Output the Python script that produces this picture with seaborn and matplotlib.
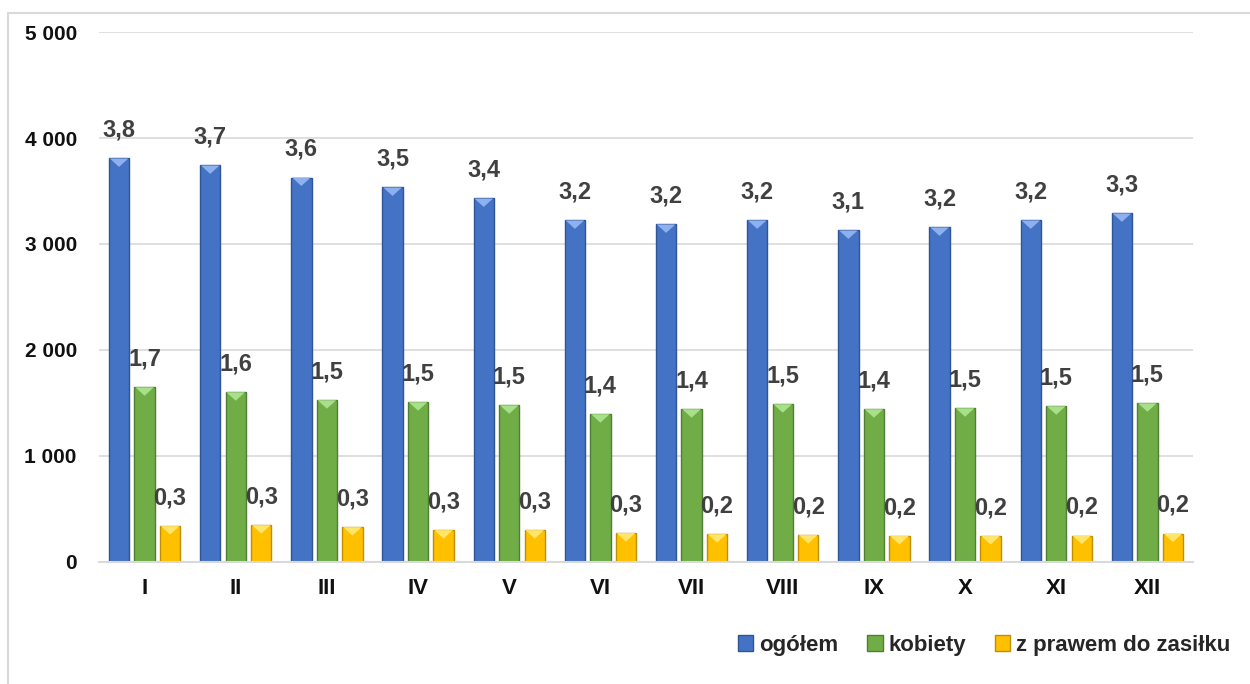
import numpy as np
import pandas as pd
import matplotlib.pyplot as plt
import seaborn as sns
from matplotlib.patches import Polygon, Rectangle, Patch

months = ['I', 'II', 'III', 'IV', 'V', 'VI', 'VII', 'VIII', 'IX', 'X', 'XI', 'XII']
series = ['ogółem', 'kobiety', 'z prawem do zasiłku']

ogolem = [3807, 3741, 3627, 3533, 3429, 3222, 3184, 3222, 3127, 3156, 3222, 3288]
kobiety = [1646, 1599, 1524, 1505, 1476, 1392, 1439, 1486, 1439, 1448, 1467, 1495]
zasilek = [335, 344, 325, 297, 297, 269, 259, 250, 241, 241, 245, 264]

# etykiety w tys. (tak jak na wykresie)
lab_ogolem = ['3,8', '3,7', '3,6', '3,5', '3,4', '3,2', '3,2', '3,2', '3,1', '3,2', '3,2', '3,3']
lab_kobiety = ['1,7', '1,6', '1,5', '1,5', '1,5', '1,4', '1,4', '1,5', '1,4', '1,5', '1,5', '1,5']
lab_zasilek = ['0,3', '0,3', '0,3', '0,3', '0,3', '0,3', '0,2', '0,2', '0,2', '0,2', '0,2', '0,2']

yticks = [0, 1000, 2000, 3000, 4000, 5000]
ytick_labels = ['0', '1 000', '2 000', '3 000', '4 000', '5 000']

colors = ['#4472C4', '#70AD47', '#FFC000']
edges = ['#2F5597', '#507E32', '#BF9000']
lights = ['#8DB0EE', '#A8E08A', '#FFE66B']

df = pd.DataFrame({
    'miesiac': months * 3,
    'seria': [s for s in series for _ in months],
    'liczba': ogolem + kobiety + zasilek,
})

sns.set_style('white')
plt.rcParams['font.family'] = ['Liberation Sans', 'DejaVu Sans']
plt.rcParams['font.weight'] = 'bold'

fig = plt.figure(figsize=(12.5, 6.84), dpi=100)
ax = fig.add_axes([0.0792, 0.179, 0.8752, 0.774])

sns.barplot(data=df, x='miesiac', y='liczba', hue='seria', hue_order=series,
            palette=colors, width=0.84, gap=0.2, ax=ax, legend=False,
            saturation=1, errorbar=None)

for cont, edge, light, lab in zip(ax.containers, edges, lights,
                                  [lab_ogolem, lab_kobiety, lab_zasilek]):
    for p in cont:
        p.set_edgecolor(edge)
        p.set_linewidth(1)
        x0, w, h = p.get_x(), p.get_width(), p.get_height()
        tri = Polygon([(x0 + 0.01, h), (x0 + w - 0.01, h), (x0 + w / 2, h - 80)],
                      closed=True, fc=light, ec='none', zorder=p.get_zorder() + 0.1)
        ax.add_patch(tri)
    ax.bar_label(cont, labels=lab, padding=12, fontsize=17,
                 fontweight='bold', color='#404040')

ax.set_ylim(0, 5000)
ax.set_xlim(-0.5, 11.5)
ax.set_yticks(yticks)
ax.set_yticklabels(ytick_labels)
ax.yaxis.grid(True, color='#D9D9D9', lw=1.2)
ax.set_axisbelow(True)
for s in ['top', 'left', 'right']:
    ax.spines[s].set_visible(False)
ax.spines['bottom'].set_color('#D9D9D9')
ax.spines['bottom'].set_linewidth(1.5)
ax.tick_params(axis='y', length=0, pad=16, labelsize=15, labelcolor='#111111')
ax.tick_params(axis='x', length=0, pad=12, labelsize=16, labelcolor='#111111')
for t in ax.get_xticklabels() + ax.get_yticklabels():
    t.set_fontweight('bold')
ax.set_xlabel('')
ax.set_ylabel('')

handles = [Patch(facecolor=c, edgecolor=e) for c, e in zip(colors, edges)]
fig.legend(handles, series, loc='center right', bbox_to_anchor=(1.0, 1 - 645 / 684),
           ncol=3, frameon=False, prop={'size': 16, 'weight': 'bold'},
           handlelength=0.7, handleheight=0.7,
           handletextpad=0.25, columnspacing=1.3)

fig.patches.append(Rectangle((8 / 1250, -0.1), 1.2, 1.1 - 13 / 684,
                             transform=fig.transFigure, fill=False,
                             ec='#D9D9D9', lw=1.5))

fig.savefig('out.png', dpi=100)
